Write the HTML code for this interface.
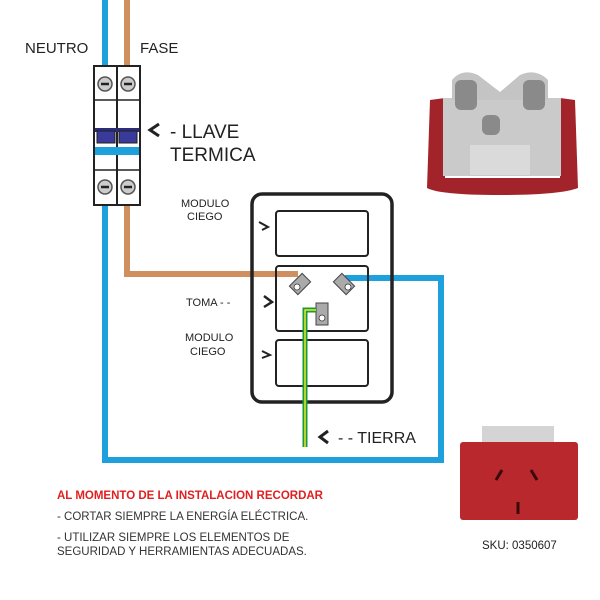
<!DOCTYPE html>
<html><head><style>body{margin:0;background:#fff}svg{display:block}text{font-family:"Liberation Sans",Arial,sans-serif}</style></head><body>
<svg width="600" height="600" viewBox="0 0 600 600">
<rect width="600" height="600" fill="#fff"/>
<polyline points="105,0 105,460 441,460 441,278 345,278" fill="none" stroke="#1ea0dc" stroke-width="6"/>
<polyline points="127,0 127,274 298,274" fill="none" stroke="#d08f5e" stroke-width="6"/>
<rect x="94" y="66" width="46" height="139" fill="#fff" stroke="#222" stroke-width="2"/>
<line x1="117" y1="66" x2="117" y2="205" stroke="#222" stroke-width="2"/>
<line x1="94" y1="100" x2="140" y2="100" stroke="#222" stroke-width="1.5"/>
<line x1="94" y1="170" x2="140" y2="170" stroke="#222" stroke-width="1.5"/>
<rect x="95" y="128" width="44" height="4" fill="#2b2d7a"/>
<rect x="97" y="131" width="18" height="12" fill="#3a3a9a" stroke="#222" stroke-width="1"/>
<rect x="119" y="131" width="18" height="12" fill="#3a3a9a" stroke="#222" stroke-width="1"/>
<rect x="95" y="147" width="44" height="8" fill="#1ea0dc"/>
<g fill="#ccc" stroke="#555" stroke-width="1.5">
<circle cx="105" cy="84" r="7"/><circle cx="128" cy="84" r="7"/>
<circle cx="105" cy="187" r="7"/><circle cx="128" cy="187" r="7"/></g>
<g stroke="#222" stroke-width="2.5"><line x1="101" y1="84" x2="109" y2="84"/><line x1="124" y1="84" x2="132" y2="84"/><line x1="101" y1="187" x2="109" y2="187"/><line x1="124" y1="187" x2="132" y2="187"/></g>
<text x="25" y="53" font-size="15" fill="#222">NEUTRO</text>
<text x="140" y="53" font-size="15" fill="#222">FASE</text>
<polyline points="159,124 150,130 159,136" fill="none" stroke="#222" stroke-width="3"/>
<text x="170" y="138" font-size="19" fill="#222">- LLAVE</text>
<text x="170" y="161" font-size="19" fill="#222">TERMICA</text>
<rect x="252" y="194" width="140" height="208" rx="10" fill="none" stroke="#222" stroke-width="3.5"/>
<g fill="none" stroke="#222" stroke-width="2">
<rect x="276" y="211" width="92" height="45" rx="3"/>
<rect x="276" y="266" width="92" height="65" rx="3"/>
<rect x="276" y="340" width="92" height="46" rx="3"/>
<polyline points="259,222 268,227 262,230"/>
<polyline points="264,296 272,302 264,307" stroke-width="2.5"/>
<polyline points="262,351 270,355 262,358"/>
</g>
<g fill="#aaa" stroke="#444" stroke-width="1">
<rect x="-6" y="-9" width="12" height="18" transform="translate(300,284) rotate(45)"/>
<rect x="-6" y="-9" width="12" height="18" transform="translate(344,284) rotate(-45)"/>
<rect x="316" y="303" width="12" height="22"/></g>
<g fill="#fff" stroke="#333" stroke-width="0.8"><circle cx="297" cy="287" r="3"/><circle cx="348" cy="287" r="3"/><circle cx="322" cy="318" r="3"/></g>
<polyline points="305,447 305,310 316,310" fill="none" stroke="#1a9a3a" stroke-width="5"/>
<polyline points="305,447 305,310 316,310" fill="none" stroke="#e8e830" stroke-width="1.5"/>
<g font-size="11" fill="#222">
<text x="181" y="207">MODULO</text><text x="187" y="220">CIEGO</text>
<text x="186" y="306">TOMA -  -</text>
<text x="185" y="341">MODULO</text><text x="190" y="355">CIEGO</text></g>
<polyline points="328,431 320,437 328,443" fill="none" stroke="#222" stroke-width="3"/>
<text x="338" y="443" font-size="16" fill="#222">-  - TIERRA</text>
<!-- photo 1 -->
<path d="M430,100 L445,98 L445,178 L560,178 L560,98 L575,100 L578,188 Q560,195 500,195 Q440,195 427,188 Z" fill="#a3232a"/>
<rect x="443" y="98" width="118" height="78" fill="#cacaca"/>
<path d="M452,100 L452,80 Q462,68 478,75 L500,92 L520,75 Q536,68 548,80 L548,100 Z" fill="#c4c4c4"/>
<rect x="455" y="80" width="22" height="30" rx="6" fill="#8a8a8a"/>
<rect x="523" y="80" width="22" height="30" rx="6" fill="#8a8a8a"/>
<rect x="482" y="115" width="18" height="20" rx="6" fill="#8a8a8a"/>
<rect x="470" y="145" width="60" height="30" fill="#dadada"/>
<!-- photo 2 -->
<rect x="482" y="426" width="72" height="24" fill="#d4d4d4"/>
<rect x="460" y="442" width="118" height="78" rx="3" fill="#b8282c"/>
<g stroke="#3a0a0a" stroke-width="3"><line x1="502" y1="470" x2="496" y2="480"/><line x1="531" y1="470" x2="537" y2="480"/><line x1="518" y1="502" x2="518" y2="514"/></g>
<text x="482" y="549" font-size="11.5" fill="#222">SKU: 0350607</text>
<text x="57" y="499" font-size="11.5" fill="#e02020" font-weight="bold">AL MOMENTO DE LA INSTALACION RECORDAR</text>
<g font-size="11.5" fill="#333">
<text x="57" y="520">- CORTAR SIEMPRE LA ENERGÍA ELÉCTRICA.</text>
<text x="57" y="541">- UTILIZAR SIEMPRE LOS ELEMENTOS DE</text>
<text x="57" y="555">SEGURIDAD Y HERRAMIENTAS ADECUADAS.</text></g>
</svg>
</body></html>
